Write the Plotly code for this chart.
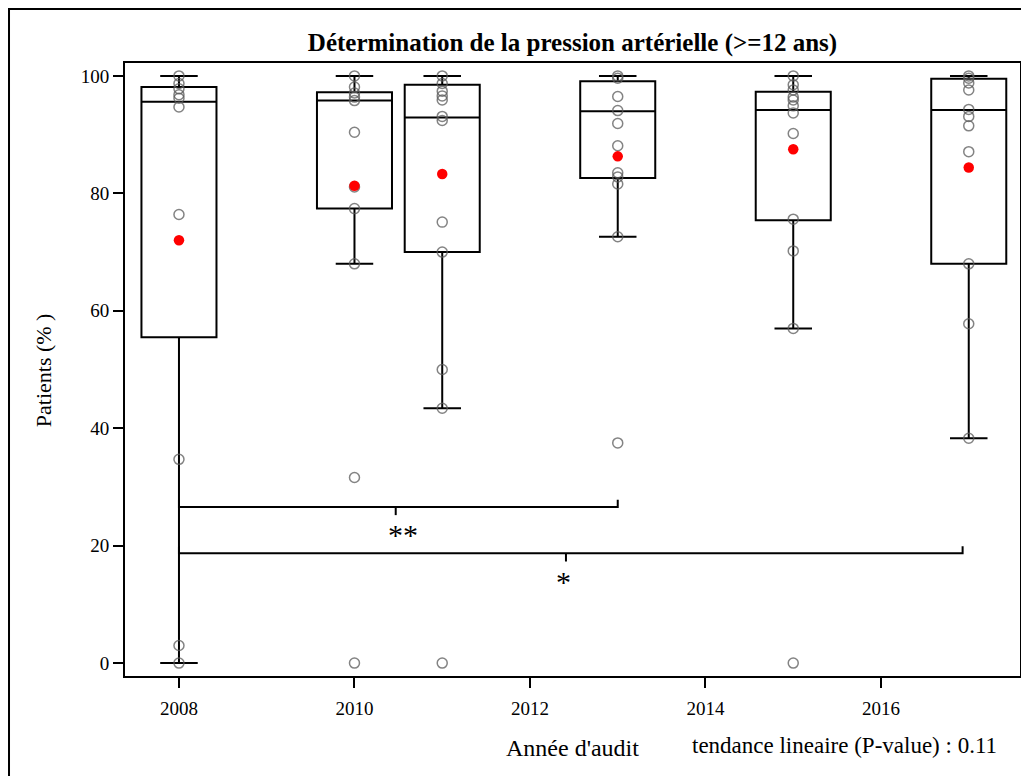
import plotly.graph_objects as go

# ---- data ----
years = [2008, 2010, 2011, 2013, 2015, 2017]
q1 = [55.5, 77.4, 70.0, 82.6, 75.4, 68.0]
medians = [95.6, 95.8, 92.9, 94.0, 94.2, 94.2]
q3 = [98.1, 97.2, 98.5, 99.1, 97.3, 99.5]
lower_fence = [0.0, 68.0, 43.4, 72.6, 57.0, 38.3]
upper_fence = [100, 100, 100, 100, 100, 100]
means = [72.0, 81.3, 83.3, 86.3, 87.5, 84.4]

points = {
    2008: [100, 98.7, 97.8, 96.8, 96.2, 94.7, 76.4, 34.7, 3.0, 0],
    2010: [100, 98.1, 97.1, 96.4, 95.8, 90.4, 81.1, 77.4, 68.0, 31.6, 0],
    2011: [100, 98.7, 97.4, 96.6, 95.9, 93.1, 92.4, 75.1, 70.0, 50.0, 43.4, 0],
    2013: [100, 99.6, 96.5, 94.1, 91.9, 88.1, 83.5, 82.8, 81.6, 72.6, 37.5],
    2015: [100, 98.5, 97.6, 96.4, 95.9, 94.9, 93.7, 90.2, 75.6, 70.2, 57.0, 0],
    2017: [100, 99.6, 98.8, 97.6, 94.3, 93.1, 91.5, 87.1, 68.0, 57.8, 38.3],
}

# significance brackets: start, end, level, middle tick position, label, label x
br_start = [2008, 2008]
br_end = [2013, 2016.93]
br_level = [26.6, 18.7]
br_mid = [2010.47, 2012.41]
br_label = ["**", "*"]
br_label_x = [2010.55, 2012.38]

x_ticks = [2008, 2010, 2012, 2014, 2016]
y_ticks = [0, 20, 40, 60, 80, 100]

title = "Détermination de la pression artérielle (>=12 ans)"
x_title = "Année d'audit"
y_title = "Patients (% )"
note = "tendance lineaire (P-value) : 0.11"

FONT = "Liberation Serif"

fig = go.Figure()

fig.add_trace(go.Box(
    x=years, q1=q1, median=medians, q3=q3,
    lowerfence=lower_fence, upperfence=upper_fence,
    width=0.855, whiskerwidth=0.5,
    fillcolor="rgba(0,0,0,0)",
    line=dict(color="black", width=2),
    boxpoints=False, showlegend=False, hoverinfo="skip",
))

for yr, vals in points.items():
    fig.add_trace(go.Scatter(
        x=[yr] * len(vals), y=vals, mode="markers",
        marker=dict(symbol="circle-open", size=10,
                    color="rgba(90,90,90,0.75)", line=dict(width=1.5)),
        showlegend=False, hoverinfo="skip",
    ))

fig.add_trace(go.Scatter(
    x=years, y=means, mode="markers",
    marker=dict(symbol="circle", size=10.5, color="red"),
    showlegend=False, hoverinfo="skip",
))

# brackets
for s, e, lv, m, lab, lx in zip(br_start, br_end, br_level, br_mid, br_label, br_label_x):
    fig.add_trace(go.Scatter(
        x=[s, s, e, e], y=[lv + 1.2, lv, lv, lv + 1.2], mode="lines",
        line=dict(color="black", width=2), showlegend=False, hoverinfo="skip",
    ))
    fig.add_trace(go.Scatter(
        x=[m, m], y=[lv, lv - 1.4], mode="lines",
        line=dict(color="black", width=2), showlegend=False, hoverinfo="skip",
    ))
    fig.add_annotation(x=lx, y=lv - 1.6, text=lab, showarrow=False,
                       yanchor="top", xanchor="center",
                       font=dict(family=FONT, size=30, color="black"))

axis_common = dict(
    showline=True, linecolor="black", linewidth=2, mirror=True,
    ticks="outside", ticklen=10, tickwidth=2, tickcolor="black",
    showgrid=False, zeroline=False,
    tickfont=dict(family=FONT, size=19, color="black"),
)

fig.update_xaxes(range=[2007.385, 2017.584], tickvals=x_ticks,
                 ticklabelstandoff=4, **axis_common)
fig.update_yaxes(range=[-2.2, 102.2], tickvals=y_ticks, **axis_common)

fig.add_annotation(xref="paper", yref="paper", x=0.5, y=-0.1175,
                   text=x_title, showarrow=False, xanchor="center", yanchor="middle",
                   font=dict(family=FONT, size=24, color="black"))
fig.add_annotation(xref="paper", yref="paper", x=0.8034, y=-0.1126,
                   text=note, showarrow=False, xanchor="center", yanchor="middle",
                   font=dict(family=FONT, size=23, color="black"))
fig.add_annotation(xref="paper", yref="paper", x=-0.0915, y=0.499,
                   text=y_title, showarrow=False, textangle=-90,
                   xanchor="center", yanchor="middle",
                   font=dict(family=FONT, size=22, color="black"))

# outer border (only left & top visible in the reference)
fig.add_shape(type="rect", xref="paper", yref="paper",
              x0=-0.1296, x1=1.05, y0=-0.25, y1=1.0881,
              line=dict(color="black", width=2), layer="below")

fig.update_layout(
    width=1029, height=776,
    margin=dict(l=117, r=17, t=55, b=108),
    paper_bgcolor="white", plot_bgcolor="white",
    title=dict(text="<b>" + title + "</b>", x=0.5, xref="paper",
               y=1 - 34 / 776, yref="container", yanchor="middle",
               font=dict(family=FONT, size=25, color="black")),
    showlegend=False,
)

fig.write_html("out.html")
